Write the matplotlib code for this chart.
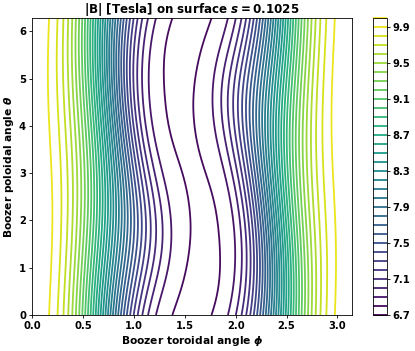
import numpy as np
import matplotlib
matplotlib.use("Agg")
import matplotlib.pyplot as plt

plt.rcParams['font.weight'] = 'bold'
plt.rcParams['axes.labelweight'] = 'bold'
plt.rcParams['axes.titleweight'] = 'bold'
plt.rcParams['mathtext.fontset'] = 'custom'
plt.rcParams['mathtext.rm'] = 'DejaVu Sans:bold'
plt.rcParams['mathtext.it'] = 'DejaVu Sans:italic:bold'
plt.rcParams['mathtext.bf'] = 'DejaVu Sans:bold'

# Boozer harmonics of |B| (m, n per field period, cos amplitude)
nfp = 2
s_value = 0.1025
xm = [0, 0, 0, 0, 0, 0, 0,
      1, 1, 1, 1, 1, 1, 1, 1, 1, 1, 1,
      2, 2, 2, 2, 2, 2, 2, 2, 2, 2, 2, 2]
xn = [0, 1, 2, 3, 4, 5, 6,
      -5, -4, -3, -2, -1, 0, 1, 2, 3, 4, 5,
      -6, -5, -4, -3, -2, -1, 0, 1, 2, 3, 4, 5]
bmnc = [8.27711, 1.70038, 0.10914, -0.11082, -0.00370, 0.00198, -0.00070,
        0.00338, -0.01692, 0.00862, 0.05942, -0.06908, -0.05481, 0.06629,
        0.00195, -0.00214, 0.00677, -0.00354,
        0.00050, -0.00172, 0.00251, -0.00060, -0.00314, 0.00533, -0.00524,
        0.00249, 0.00116, -0.00153, 0.00134, -0.00069]

levels = np.round(np.arange(6.7, 10.05, 0.1), 1)
cbar_ticks = levels[::4]

phi = np.linspace(0, 2*np.pi/nfp, 240)
theta = np.linspace(0, 2*np.pi, 240)
PHI, THETA = np.meshgrid(phi, theta)
modB = np.zeros_like(PHI)
for m, n, b in zip(xm, xn, bmnc):
    modB += b*np.cos(m*THETA - n*nfp*PHI)

fig = plt.figure(figsize=(4.15, 3.51), dpi=100)
ax = fig.add_axes([0.077, 0.1026, 0.771, 0.846])
cax = fig.add_axes([0.898, 0.1026, 0.034, 0.846])

cs = ax.contour(PHI, THETA, modB, levels=levels, cmap='viridis', linewidths=1.3)
ax.set_xlim(0, 2*np.pi/nfp)
ax.set_ylim(0, 2*np.pi)
ax.set_title('|B| [Tesla] on surface $s=$' + str(s_value), fontsize=8.6, pad=3)
ax.set_xlabel(r'Boozer toroidal angle $\phi$', fontsize=7.7, labelpad=2)
ax.set_ylabel(r'Boozer poloidal angle $\theta$', fontsize=7.7, labelpad=2)
ax.tick_params(labelsize=7.2, length=2.3, width=0.6, pad=2)
for sp in ax.spines.values():
    sp.set_linewidth(0.6)

cb = fig.colorbar(cs, cax=cax, ticks=cbar_ticks)
cb.ax.set_yticklabels(['%.1f' % t for t in cbar_ticks])
cb.ax.tick_params(labelsize=7.2, length=2.3, width=0.6, pad=2)
cb.outline.set_linewidth(0.6)

fig.savefig('out.png', dpi=100)
